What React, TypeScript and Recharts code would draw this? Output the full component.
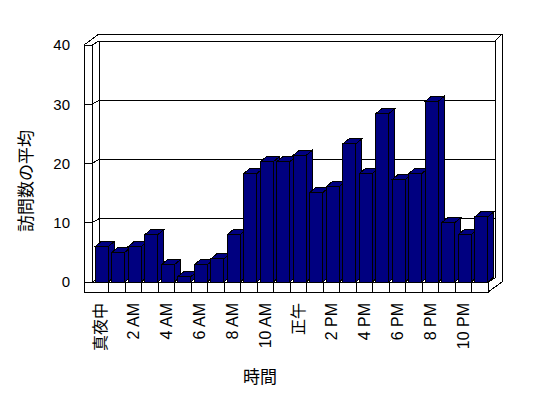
import { Bar, BarChart, CartesianGrid, Customized, XAxis, YAxis } from 'recharts'

const hours = [
  '真夜中', '1 AM', '2 AM', '3 AM', '4 AM', '5 AM', '6 AM', '7 AM', '8 AM', '9 AM', '10 AM', '11 AM',
  '正午', '1 PM', '2 PM', '3 PM', '4 PM', '5 PM', '6 PM', '7 PM', '8 PM', '9 PM', '10 PM', '11 PM',
]
const visits = [
  6.0, 5.0, 6.0, 8.0, 2.9, 0.9, 2.9, 3.9, 8.0, 18.3, 20.3, 20.3,
  21.4, 15.1, 16.1, 23.3, 18.3, 28.4, 17.3, 18.3, 30.5, 10.0, 8.0, 11.0,
]
const yTicks = [0, 10, 20, 30, 40]

const data = hours.map((h, i) => ({ hour: h, visits: visits[i] }))

// front plane of the plot, wall depth and thickness
const W = 548
const H = 398
const L = 92
const R = 488
const T = 45
const B = 282
const DX = 7
const DY = -4
const WALL = 8
const FLOOR = 10
const BAR_DX = 6
const BAR_DY = -5
const Y_AXIS_W = 60
const X_AXIS_H = 60

const FONT = "'Liberation Sans', 'Noto Sans CJK JP', sans-serif"
const NAVY = '#000080'

function Bar3D(props: any) {
  const { x, y, width, height } = props
  if (height == null || height <= 0) return null
  const x0 = x + 1.3
  const x1 = x0 + width
  const y1 = y + height
  return (
    <g stroke="#000" strokeWidth={1} fill={NAVY} shapeRendering="crispEdges">
      <polygon points={`${x1},${y} ${x1 + BAR_DX},${y + BAR_DY} ${x1 + BAR_DX},${y1 + BAR_DY} ${x1},${y1}`} />
      <polygon points={`${x0},${y} ${x1},${y} ${x1 + BAR_DX},${y + BAR_DY} ${x0 + BAR_DX},${y + BAR_DY}`} />
      <rect x={x0} y={y} width={width} height={height} />
    </g>
  )
}

function GridLine(props: any) {
  const { y1, x1, x2, index } = props
  return (
    <g key={`g-${index}`} stroke="#000" strokeWidth={1} fill="none" shapeRendering="crispEdges">
      <line x1={x1 - WALL} y1={y1} x2={x1} y2={y1} />
      <line x1={x1} y1={y1} x2={x1 + DX} y2={y1 + DY} />
      <line x1={x1 + DX} y1={y1 + DY} x2={x2 + DX} y2={y1 + DY} />
    </g>
  )
}

function Frame() {
  const band = (R - L) / hours.length
  const dividers = hours.slice(1).map((_, i) => L + band * (i + 1))
  const topOuter = T + DY - 7
  const rightOuter = R + DX + 7
  return (
    <g stroke="#000" strokeWidth={1} fill="none" shapeRendering="crispEdges">
      {/* left wall */}
      <line x1={L - WALL} y1={T} x2={L - WALL} y2={B + FLOOR} />
      <line x1={L} y1={T} x2={L} y2={B} />
      <line x1={L + DX} y1={T + DY} x2={L + DX} y2={B + DY} />
      <line x1={L - WALL} y1={T} x2={L + DX} y2={topOuter} />
      {/* back wall */}
      <line x1={L + DX} y1={topOuter} x2={rightOuter} y2={topOuter} />
      <line x1={R + DX} y1={T + DY} x2={R + DX} y2={B + DY} />
      <line x1={R + DX} y1={T + DY} x2={rightOuter} y2={topOuter} />
      <line x1={rightOuter} y1={topOuter} x2={rightOuter} y2={B} />
      {/* floor */}
      <rect x={L - WALL} y={B} width={R - L + WALL} height={FLOOR} fill="#fff" />
      {dividers.map((d, i) => (
        <line key={i} x1={d} y1={B} x2={d} y2={B + FLOOR} />
      ))}
      <line x1={R} y1={B} x2={R + DX} y2={B + DY} />
      <line x1={R} y1={B + FLOOR} x2={rightOuter} y2={B} />
      <text
        x={26}
        y={181}
        transform="rotate(-90 26 181)"
        textAnchor="middle"
        dominantBaseline="central"
        fontSize={17}
        fill="#000"
        stroke="none"
        fontFamily={FONT}
      >
        訪問数の平均
      </text>
      <text
        x={260}
        y={377}
        textAnchor="middle"
        dominantBaseline="central"
        fontSize={17}
        fill="#000"
        stroke="none"
        fontFamily={FONT}
      >
        時間
      </text>
    </g>
  )
}

function HourTick(props: any) {
  const { x, y, payload, index } = props
  if (index % 2 !== 0) return null
  return (
    <text
      x={x}
      y={y}
      transform={`rotate(-90 ${x} ${y})`}
      textAnchor="end"
      dominantBaseline="central"
      fontSize={16}
      fill="#000"
      style={{ fill: '#000' }}
      fontFamily={FONT}
    >
      {payload.value}
    </text>
  )
}

export default function App() {
  return (
    <div style={{ position: 'absolute', left: 0, top: 0, width: W, height: H, background: '#fff' }}>
      <BarChart
        width={W}
        height={H}
        data={data}
        margin={{ top: T, right: W - R, bottom: H - B - X_AXIS_H, left: L - Y_AXIS_W }}
        barSize={13}
      >
        <CartesianGrid vertical={false} horizontal={(p: any) => <GridLine {...p} />} />
        <Customized component={<Frame />} />
        <XAxis
          dataKey="hour"
          interval={0}
          axisLine={false}
          tickLine={false}
          tickSize={0}
          tickMargin={21}
          height={X_AXIS_H}
          tick={<HourTick />}
        />
        <YAxis
          width={Y_AXIS_W}
          domain={[0, 40]}
          ticks={yTicks}
          axisLine={false}
          tickLine={false}
          tickSize={0}
          tickMargin={22}
          tick={{ fill: '#000', fontSize: 15, fontFamily: FONT }}
        />
        <Bar dataKey="visits" isAnimationActive={false} shape={<Bar3D />} />
      </BarChart>
    </div>
  )
}
